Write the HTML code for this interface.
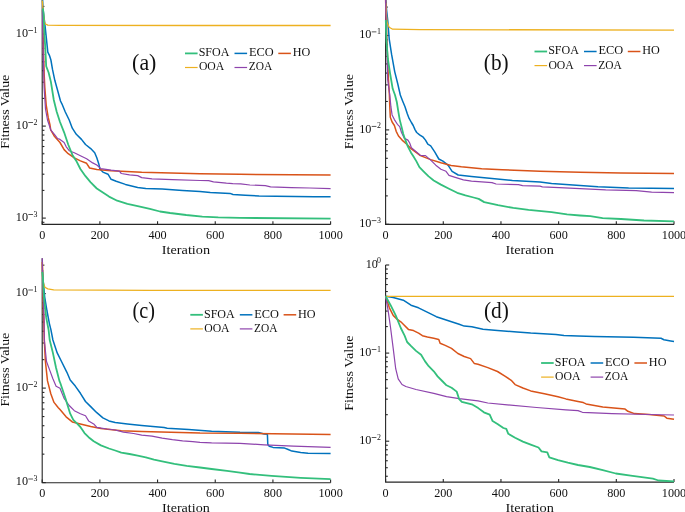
<!DOCTYPE html>
<html><head><meta charset="utf-8"><style>
html,body{margin:0;padding:0;background:#fff;}
body{width:685px;height:512px;overflow:hidden;}
svg{display:block;font-family:"Liberation Serif", serif;will-change:transform;}
</style></head><body>
<svg width="685" height="512" viewBox="0 0 685 512">
<rect width="685" height="512" fill="#fff"/>
<path d="M42.20 0.00V224.40H330.60" fill="none" stroke="#262626" stroke-width="1.1"/>
<path d="M42.20 224.40v-3.2" stroke="#262626" stroke-width="1.1"/>
<path d="M99.88 224.40v-3.2" stroke="#262626" stroke-width="1.1"/>
<path d="M157.56 224.40v-3.2" stroke="#262626" stroke-width="1.1"/>
<path d="M215.24 224.40v-3.2" stroke="#262626" stroke-width="1.1"/>
<path d="M272.92 224.40v-3.2" stroke="#262626" stroke-width="1.1"/>
<path d="M330.60 224.40v-3.2" stroke="#262626" stroke-width="1.1"/>
<path d="M42.20 222.31h2.2" stroke="#262626" stroke-width="1.1"/>
<path d="M42.20 218.10h3.6" stroke="#262626" stroke-width="1.1"/>
<path d="M42.20 190.41h2.2" stroke="#262626" stroke-width="1.1"/>
<path d="M42.20 174.20h2.2" stroke="#262626" stroke-width="1.1"/>
<path d="M42.20 162.71h2.2" stroke="#262626" stroke-width="1.1"/>
<path d="M42.20 153.79h2.2" stroke="#262626" stroke-width="1.1"/>
<path d="M42.20 146.51h2.2" stroke="#262626" stroke-width="1.1"/>
<path d="M42.20 140.35h2.2" stroke="#262626" stroke-width="1.1"/>
<path d="M42.20 135.02h2.2" stroke="#262626" stroke-width="1.1"/>
<path d="M42.20 130.31h2.2" stroke="#262626" stroke-width="1.1"/>
<path d="M42.20 126.10h3.6" stroke="#262626" stroke-width="1.1"/>
<path d="M42.20 98.41h2.2" stroke="#262626" stroke-width="1.1"/>
<path d="M42.20 82.20h2.2" stroke="#262626" stroke-width="1.1"/>
<path d="M42.20 70.71h2.2" stroke="#262626" stroke-width="1.1"/>
<path d="M42.20 61.79h2.2" stroke="#262626" stroke-width="1.1"/>
<path d="M42.20 54.51h2.2" stroke="#262626" stroke-width="1.1"/>
<path d="M42.20 48.35h2.2" stroke="#262626" stroke-width="1.1"/>
<path d="M42.20 43.02h2.2" stroke="#262626" stroke-width="1.1"/>
<path d="M42.20 38.31h2.2" stroke="#262626" stroke-width="1.1"/>
<path d="M42.20 34.10h3.6" stroke="#262626" stroke-width="1.1"/>
<path d="M42.20 6.41h2.2" stroke="#262626" stroke-width="1.1"/>
<path d="M385.60 0.00V224.40H674.00" fill="none" stroke="#262626" stroke-width="1.1"/>
<path d="M385.60 224.40v-3.2" stroke="#262626" stroke-width="1.1"/>
<path d="M443.28 224.40v-3.2" stroke="#262626" stroke-width="1.1"/>
<path d="M500.96 224.40v-3.2" stroke="#262626" stroke-width="1.1"/>
<path d="M558.64 224.40v-3.2" stroke="#262626" stroke-width="1.1"/>
<path d="M616.32 224.40v-3.2" stroke="#262626" stroke-width="1.1"/>
<path d="M674.00 224.40v-3.2" stroke="#262626" stroke-width="1.1"/>
<path d="M385.60 224.30h3.6" stroke="#262626" stroke-width="1.1"/>
<path d="M385.60 195.88h2.2" stroke="#262626" stroke-width="1.1"/>
<path d="M385.60 179.26h2.2" stroke="#262626" stroke-width="1.1"/>
<path d="M385.60 167.47h2.2" stroke="#262626" stroke-width="1.1"/>
<path d="M385.60 158.32h2.2" stroke="#262626" stroke-width="1.1"/>
<path d="M385.60 150.84h2.2" stroke="#262626" stroke-width="1.1"/>
<path d="M385.60 144.52h2.2" stroke="#262626" stroke-width="1.1"/>
<path d="M385.60 139.05h2.2" stroke="#262626" stroke-width="1.1"/>
<path d="M385.60 134.22h2.2" stroke="#262626" stroke-width="1.1"/>
<path d="M385.60 129.90h3.6" stroke="#262626" stroke-width="1.1"/>
<path d="M385.60 101.48h2.2" stroke="#262626" stroke-width="1.1"/>
<path d="M385.60 84.86h2.2" stroke="#262626" stroke-width="1.1"/>
<path d="M385.60 73.07h2.2" stroke="#262626" stroke-width="1.1"/>
<path d="M385.60 63.92h2.2" stroke="#262626" stroke-width="1.1"/>
<path d="M385.60 56.44h2.2" stroke="#262626" stroke-width="1.1"/>
<path d="M385.60 50.12h2.2" stroke="#262626" stroke-width="1.1"/>
<path d="M385.60 44.65h2.2" stroke="#262626" stroke-width="1.1"/>
<path d="M385.60 39.82h2.2" stroke="#262626" stroke-width="1.1"/>
<path d="M385.60 35.50h3.6" stroke="#262626" stroke-width="1.1"/>
<path d="M385.60 7.08h2.2" stroke="#262626" stroke-width="1.1"/>
<path d="M42.20 258.20V482.70H330.60" fill="none" stroke="#262626" stroke-width="1.1"/>
<path d="M42.20 482.70v-3.2" stroke="#262626" stroke-width="1.1"/>
<path d="M99.88 482.70v-3.2" stroke="#262626" stroke-width="1.1"/>
<path d="M157.56 482.70v-3.2" stroke="#262626" stroke-width="1.1"/>
<path d="M215.24 482.70v-3.2" stroke="#262626" stroke-width="1.1"/>
<path d="M272.92 482.70v-3.2" stroke="#262626" stroke-width="1.1"/>
<path d="M330.60 482.70v-3.2" stroke="#262626" stroke-width="1.1"/>
<path d="M42.20 482.60h3.6" stroke="#262626" stroke-width="1.1"/>
<path d="M42.20 454.15h2.2" stroke="#262626" stroke-width="1.1"/>
<path d="M42.20 437.51h2.2" stroke="#262626" stroke-width="1.1"/>
<path d="M42.20 425.71h2.2" stroke="#262626" stroke-width="1.1"/>
<path d="M42.20 416.55h2.2" stroke="#262626" stroke-width="1.1"/>
<path d="M42.20 409.06h2.2" stroke="#262626" stroke-width="1.1"/>
<path d="M42.20 402.74h2.2" stroke="#262626" stroke-width="1.1"/>
<path d="M42.20 397.26h2.2" stroke="#262626" stroke-width="1.1"/>
<path d="M42.20 392.42h2.2" stroke="#262626" stroke-width="1.1"/>
<path d="M42.20 388.10h3.6" stroke="#262626" stroke-width="1.1"/>
<path d="M42.20 359.65h2.2" stroke="#262626" stroke-width="1.1"/>
<path d="M42.20 343.01h2.2" stroke="#262626" stroke-width="1.1"/>
<path d="M42.20 331.21h2.2" stroke="#262626" stroke-width="1.1"/>
<path d="M42.20 322.05h2.2" stroke="#262626" stroke-width="1.1"/>
<path d="M42.20 314.56h2.2" stroke="#262626" stroke-width="1.1"/>
<path d="M42.20 308.24h2.2" stroke="#262626" stroke-width="1.1"/>
<path d="M42.20 302.76h2.2" stroke="#262626" stroke-width="1.1"/>
<path d="M42.20 297.92h2.2" stroke="#262626" stroke-width="1.1"/>
<path d="M42.20 293.60h3.6" stroke="#262626" stroke-width="1.1"/>
<path d="M42.20 265.15h2.2" stroke="#262626" stroke-width="1.1"/>
<path d="M385.60 265.00V482.10H674.00" fill="none" stroke="#262626" stroke-width="1.1"/>
<path d="M385.60 482.10v-3.2" stroke="#262626" stroke-width="1.1"/>
<path d="M443.28 482.10v-3.2" stroke="#262626" stroke-width="1.1"/>
<path d="M500.96 482.10v-3.2" stroke="#262626" stroke-width="1.1"/>
<path d="M558.64 482.10v-3.2" stroke="#262626" stroke-width="1.1"/>
<path d="M616.32 482.10v-3.2" stroke="#262626" stroke-width="1.1"/>
<path d="M674.00 482.10v-3.2" stroke="#262626" stroke-width="1.1"/>
<path d="M385.60 476.26h2.2" stroke="#262626" stroke-width="1.1"/>
<path d="M385.60 467.72h2.2" stroke="#262626" stroke-width="1.1"/>
<path d="M385.60 460.74h2.2" stroke="#262626" stroke-width="1.1"/>
<path d="M385.60 454.85h2.2" stroke="#262626" stroke-width="1.1"/>
<path d="M385.60 449.74h2.2" stroke="#262626" stroke-width="1.1"/>
<path d="M385.60 445.23h2.2" stroke="#262626" stroke-width="1.1"/>
<path d="M385.60 441.20h3.6" stroke="#262626" stroke-width="1.1"/>
<path d="M385.60 414.68h2.2" stroke="#262626" stroke-width="1.1"/>
<path d="M385.60 399.17h2.2" stroke="#262626" stroke-width="1.1"/>
<path d="M385.60 388.16h2.2" stroke="#262626" stroke-width="1.1"/>
<path d="M385.60 379.62h2.2" stroke="#262626" stroke-width="1.1"/>
<path d="M385.60 372.64h2.2" stroke="#262626" stroke-width="1.1"/>
<path d="M385.60 366.75h2.2" stroke="#262626" stroke-width="1.1"/>
<path d="M385.60 361.64h2.2" stroke="#262626" stroke-width="1.1"/>
<path d="M385.60 357.13h2.2" stroke="#262626" stroke-width="1.1"/>
<path d="M385.60 353.10h3.6" stroke="#262626" stroke-width="1.1"/>
<path d="M385.60 326.58h2.2" stroke="#262626" stroke-width="1.1"/>
<path d="M385.60 311.07h2.2" stroke="#262626" stroke-width="1.1"/>
<path d="M385.60 300.06h2.2" stroke="#262626" stroke-width="1.1"/>
<path d="M385.60 291.52h2.2" stroke="#262626" stroke-width="1.1"/>
<path d="M385.60 284.54h2.2" stroke="#262626" stroke-width="1.1"/>
<path d="M385.60 278.65h2.2" stroke="#262626" stroke-width="1.1"/>
<path d="M385.60 273.54h2.2" stroke="#262626" stroke-width="1.1"/>
<path d="M385.60 269.03h2.2" stroke="#262626" stroke-width="1.1"/>
<path d="M385.60 265.00h3.6" stroke="#262626" stroke-width="1.1"/>
<path d="M42.6 0.0 L43.1 10.0 L44.7 22.5 L46.2 36.6 L47.8 52.2 L49.4 55.3 L50.9 60.0 L52.5 69.4 L54.8 80.3 L57.5 90.0 L60.5 101.0 L61.9 103.8 L65.3 112.0 L69.2 120.0 L72.3 128.2 L76.3 134.3 L81.5 139.4 L85.5 144.5 L90.7 148.6 L94.7 152.7 L96.8 157.8 L98.8 163.9 L99.9 169.0 L102.9 172.1 L108.0 174.2 L111.1 179.3 L116.2 181.3 L125.4 184.4 L137.7 187.4 L145.8 188.5 L162.2 189.1 L182.6 190.5 L200.0 191.5 L210.3 192.6 L230.0 193.4 L233.0 194.5 L245.3 195.3 L259.1 196.0 L276.0 196.3 L314.3 196.8 L330.6 196.8" fill="none" stroke="#0072bd" stroke-width="1.5" stroke-linejoin="round" stroke-linecap="butt"/>
<path d="M42.6 9.5 L43.0 30.0 L43.6 55.0 L44.2 75.0 L44.8 87.3 L46.2 105.0 L48.2 117.4 L50.0 125.0 L50.7 129.8 L54.6 136.6 L60.0 142.5 L64.1 149.6 L68.2 153.7 L74.3 157.8 L80.4 160.9 L86.6 163.3 L89.6 168.0 L96.8 169.5 L111.1 170.7 L141.7 172.3 L200.0 173.8 L240.0 174.3 L330.6 175.0" fill="none" stroke="#d95319" stroke-width="1.5" stroke-linejoin="round" stroke-linecap="butt"/>
<path d="M42.3 0.5 L43.1 10.0 L44.4 21.7 L45.5 24.0 L47.8 25.2 L60.0 25.4 L200.0 25.5 L330.6 25.5" fill="none" stroke="#edb120" stroke-width="1.3" stroke-linejoin="round" stroke-linecap="butt"/>
<path d="M42.5 9.5 L42.6 20.0 L42.9 40.0 L43.4 60.0 L44.1 87.3 L45.5 109.0 L47.5 120.0 L49.5 126.0 L50.7 129.8 L54.6 134.6 L57.6 138.5 L60.0 139.4 L64.1 142.5 L66.1 146.6 L69.2 150.7 L74.3 152.7 L80.4 155.8 L86.6 158.8 L92.7 162.9 L96.8 165.0 L100.9 168.6 L111.1 170.1 L119.3 171.1 L121.3 173.5 L129.5 174.8 L137.7 175.6 L141.7 177.6 L152.0 178.9 L172.4 179.7 L200.0 180.5 L208.7 180.6 L213.5 181.8 L226.4 183.2 L232.8 183.6 L240.7 183.8 L249.9 185.0 L265.3 185.6 L270.6 186.8 L291.3 187.6 L309.7 188.0 L330.6 188.7" fill="none" stroke="#8e44ad" stroke-width="1.2" stroke-linejoin="round" stroke-linecap="butt"/>
<path d="M42.8 8.5 L43.4 12.0 L44.5 35.0 L45.3 48.0 L46.2 66.3 L48.6 72.5 L50.9 81.9 L53.8 100.0 L56.7 111.7 L60.0 122.0 L64.1 132.3 L68.2 144.5 L72.3 154.7 L76.3 160.9 L80.4 169.0 L85.5 176.2 L90.7 182.3 L96.8 188.5 L102.9 192.6 L109.0 196.6 L117.2 200.7 L127.4 203.8 L137.7 206.2 L149.9 208.9 L160.0 211.5 L170.1 213.0 L186.2 215.0 L202.3 216.6 L218.3 217.4 L240.0 217.9 L330.6 218.6" fill="none" stroke="#33bf7c" stroke-width="1.8" stroke-linejoin="round" stroke-linecap="butt"/>
<path d="M385.8 0.0 L386.6 10.0 L387.7 20.0 L389.2 38.8 L391.6 54.4 L394.7 71.6 L397.8 84.0 L400.3 95.0 L402.6 100.9 L405.0 106.7 L407.3 113.8 L409.1 118.4 L411.4 122.5 L413.2 125.5 L415.0 129.6 L416.7 132.5 L419.6 134.8 L423.2 137.2 L425.5 140.1 L427.8 144.2 L430.7 145.8 L434.7 151.9 L438.8 159.0 L442.9 161.1 L448.0 165.2 L452.1 171.3 L458.2 175.0 L471.5 176.4 L492.0 178.5 L512.4 180.5 L540.0 182.1 L551.6 183.4 L580.0 185.6 L598.0 186.8 L628.6 188.0 L674.0 188.6" fill="none" stroke="#0072bd" stroke-width="1.5" stroke-linejoin="round" stroke-linecap="butt"/>
<path d="M385.6 0.0 L386.3 20.0 L386.9 40.0 L387.6 60.0 L388.5 80.5 L389.4 95.0 L389.8 106.7 L390.3 117.3 L392.1 122.0 L394.4 125.5 L396.2 131.3 L398.5 136.0 L402.1 140.1 L406.8 144.2 L411.4 148.9 L416.1 152.4 L420.4 155.6 L430.7 159.6 L440.9 162.8 L451.1 165.4 L461.3 166.8 L481.7 168.7 L502.2 169.7 L540.0 171.3 L580.0 172.2 L621.0 173.0 L674.0 173.5" fill="none" stroke="#d95319" stroke-width="1.5" stroke-linejoin="round" stroke-linecap="butt"/>
<path d="M385.7 3.0 L386.4 14.0 L387.1 22.6 L389.2 27.3 L392.6 29.2 L420.0 29.6 L674.0 30.1" fill="none" stroke="#edb120" stroke-width="1.3" stroke-linejoin="round" stroke-linecap="butt"/>
<path d="M385.6 0.0 L386.2 25.0 L386.9 51.0 L387.7 79.4 L389.8 95.0 L390.9 106.7 L392.1 114.9 L394.4 119.6 L397.4 124.3 L399.7 126.6 L401.5 132.5 L404.4 138.4 L407.9 140.1 L409.7 143.0 L411.4 147.7 L415.0 150.7 L418.5 153.6 L420.4 155.4 L425.5 155.6 L430.7 160.1 L435.8 165.2 L440.9 169.3 L446.0 171.3 L449.0 175.4 L455.2 177.4 L463.4 179.9 L471.5 181.1 L492.0 182.6 L496.1 184.0 L518.5 184.6 L522.6 185.6 L540.0 186.2 L542.4 186.8 L559.3 187.6 L580.0 188.6 L605.7 189.9 L636.3 190.6 L651.6 192.2 L674.0 192.6" fill="none" stroke="#8e44ad" stroke-width="1.2" stroke-linejoin="round" stroke-linecap="butt"/>
<path d="M385.8 20.0 L386.1 30.0 L386.5 41.4 L387.9 59.0 L390.0 73.0 L392.7 88.8 L395.0 95.0 L396.8 102.0 L398.5 112.6 L399.7 119.6 L401.5 126.6 L403.2 133.7 L405.6 140.7 L407.9 146.6 L410.9 152.4 L413.5 156.5 L416.3 161.1 L419.4 167.2 L423.5 171.3 L428.6 176.4 L433.7 180.5 L440.9 184.6 L449.0 188.7 L457.2 192.8 L465.4 195.4 L473.6 197.5 L478.7 198.9 L484.2 202.1 L498.0 205.2 L513.3 207.9 L528.6 209.8 L551.6 212.1 L567.0 214.4 L580.0 215.5 L590.3 216.2 L602.6 218.2 L621.0 219.0 L644.0 220.5 L674.0 221.3" fill="none" stroke="#33bf7c" stroke-width="1.8" stroke-linejoin="round" stroke-linecap="butt"/>
<path d="M42.6 270.0 L43.1 279.9 L44.7 297.0 L47.0 311.0 L49.4 323.6 L50.9 329.6 L52.9 340.0 L57.2 352.9 L61.5 361.5 L66.9 372.3 L70.2 380.0 L75.3 386.1 L80.4 393.3 L85.5 401.5 L90.7 406.6 L96.8 412.7 L102.9 417.8 L109.0 420.9 L115.2 422.5 L127.4 423.9 L141.7 425.4 L164.1 427.6 L167.2 428.2 L188.6 429.6 L211.6 431.3 L240.0 432.3 L258.4 432.5 L264.2 434.0 L267.4 434.3 L267.8 444.5 L269.3 446.2 L273.0 447.4 L284.6 448.1 L287.6 449.2 L291.9 451.1 L300.7 452.5 L308.0 453.3 L330.6 453.5" fill="none" stroke="#0072bd" stroke-width="1.5" stroke-linejoin="round" stroke-linecap="butt"/>
<path d="M42.3 262.0 L42.9 290.0 L43.4 310.0 L43.8 320.0 L44.3 340.0 L45.4 361.5 L47.5 380.9 L50.8 393.8 L54.0 402.4 L58.3 407.7 L60.0 409.6 L66.1 416.8 L72.3 421.9 L80.4 423.9 L90.7 426.6 L100.9 428.6 L121.3 430.7 L141.7 431.5 L200.0 433.1 L240.0 433.3 L330.6 434.6" fill="none" stroke="#d95319" stroke-width="1.5" stroke-linejoin="round" stroke-linecap="butt"/>
<path d="M42.4 262.0 L42.9 281.4 L44.9 287.3 L47.8 288.9 L53.7 289.8 L150.0 290.4 L330.6 290.4" fill="none" stroke="#edb120" stroke-width="1.3" stroke-linejoin="round" stroke-linecap="butt"/>
<path d="M42.2 258.2 L42.8 280.0 L43.4 300.0 L44.1 320.0 L44.3 340.0 L46.5 361.5 L49.7 370.1 L52.9 378.7 L56.1 386.2 L60.0 388.2 L64.1 398.4 L69.2 405.5 L74.3 410.7 L80.4 413.7 L85.5 415.8 L88.6 420.9 L93.7 423.9 L96.8 427.4 L107.0 429.0 L115.2 430.0 L123.4 432.1 L133.6 433.5 L141.7 435.2 L152.0 436.2 L162.2 438.2 L172.4 439.7 L182.6 440.9 L192.8 441.7 L200.0 442.3 L211.6 442.9 L240.0 443.4 L264.2 444.8 L293.4 446.2 L330.6 447.4" fill="none" stroke="#8e44ad" stroke-width="1.2" stroke-linejoin="round" stroke-linecap="butt"/>
<path d="M42.3 272.0 L42.9 277.5 L43.9 297.0 L46.2 317.4 L48.6 329.9 L49.7 340.0 L52.9 352.9 L56.1 368.0 L59.4 380.9 L60.3 383.0 L66.1 400.4 L70.2 413.7 L73.3 419.9 L77.4 423.9 L80.4 427.0 L84.5 433.1 L88.6 437.2 L93.7 441.3 L100.9 445.4 L109.0 448.5 L115.2 450.5 L121.3 452.6 L129.5 454.0 L137.7 455.6 L145.8 457.3 L154.0 459.7 L162.2 461.3 L174.4 463.8 L186.7 465.8 L200.0 467.5 L211.6 469.0 L227.0 470.8 L240.0 472.6 L249.6 474.0 L271.5 475.9 L300.7 477.8 L330.6 479.1" fill="none" stroke="#33bf7c" stroke-width="1.8" stroke-linejoin="round" stroke-linecap="butt"/>
<path d="M385.6 296.3 L393.2 297.6 L403.3 300.2 L411.0 305.2 L418.5 307.8 L428.7 312.9 L436.3 316.7 L443.9 319.2 L451.5 321.8 L459.2 324.3 L464.2 326.1 L471.8 326.8 L483.0 329.2 L497.5 330.5 L517.0 331.9 L530.7 333.0 L556.0 334.4 L564.0 335.6 L578.0 336.1 L594.5 336.6 L633.6 337.3 L661.0 338.3 L663.9 339.7 L670.7 340.9 L674.0 341.6" fill="none" stroke="#0072bd" stroke-width="1.5" stroke-linejoin="round" stroke-linecap="butt"/>
<path d="M385.6 296.3 L389.4 307.8 L393.2 315.4 L397.0 319.2 L400.8 321.8 L403.3 324.3 L408.4 329.4 L413.5 330.6 L418.6 333.2 L422.4 335.7 L427.4 337.0 L433.8 338.2 L438.8 339.5 L440.1 343.3 L445.2 345.4 L451.5 348.4 L457.9 353.5 L464.2 356.5 L470.6 358.6 L474.4 363.6 L478.0 364.3 L487.8 367.6 L497.5 371.5 L505.3 376.4 L511.2 380.3 L515.1 384.6 L522.9 388.0 L530.7 390.9 L544.4 393.8 L558.0 396.7 L565.9 398.9 L578.0 401.4 L583.3 402.6 L586.1 403.9 L602.8 407.1 L625.1 409.1 L627.9 411.3 L634.4 413.6 L649.2 414.5 L664.1 416.0 L666.8 418.2 L674.0 419.3" fill="none" stroke="#d95319" stroke-width="1.5" stroke-linejoin="round" stroke-linecap="butt"/>
<path d="M385.5 296.4 L674.0 296.4" fill="none" stroke="#edb120" stroke-width="1.3" stroke-linejoin="round" stroke-linecap="butt"/>
<path d="M385.6 296.3 L388.1 310.3 L390.6 328.0 L393.2 348.4 L395.7 368.7 L398.2 378.9 L402.0 384.5 L405.8 386.5 L416.0 389.5 L433.8 393.3 L446.5 396.6 L459.2 398.7 L478.0 400.9 L487.8 403.0 L507.3 404.9 L536.6 407.5 L565.9 409.8 L578.0 410.6 L582.4 412.3 L612.1 413.6 L649.2 414.5 L674.0 415.0" fill="none" stroke="#8e44ad" stroke-width="1.2" stroke-linejoin="round" stroke-linecap="butt"/>
<path d="M385.6 296.3 L390.6 305.2 L395.7 315.4 L400.8 328.0 L404.6 335.7 L407.1 342.0 L410.9 345.9 L416.0 350.9 L421.1 354.8 L424.9 361.1 L428.7 366.2 L433.8 371.3 L437.6 376.4 L442.7 381.5 L446.5 385.3 L451.6 387.8 L456.7 391.6 L459.2 399.2 L461.8 401.8 L471.8 404.3 L478.2 408.1 L483.9 412.3 L489.7 414.7 L492.6 421.1 L497.5 424.0 L503.4 428.0 L506.3 428.9 L508.3 433.8 L515.1 437.7 L522.9 441.6 L530.7 444.6 L538.5 447.5 L541.5 451.4 L547.3 452.4 L549.3 457.3 L558.0 460.2 L567.8 462.7 L578.0 465.0 L589.8 467.0 L602.8 470.1 L615.8 473.5 L630.7 475.7 L652.9 478.7 L658.5 480.5 L674.0 481.3" fill="none" stroke="#33bf7c" stroke-width="1.8" stroke-linejoin="round" stroke-linecap="butt"/>
<g fill="#111111"><text x="15.80" y="36.90" font-size="12.2">10</text>
<rect x="28.30" y="30.15" width="4.7" height="0.7"/>
<text x="37.50" y="32.50" font-size="7.9" text-anchor="end">1</text>
<text x="359.20" y="38.30" font-size="12.2">10</text>
<rect x="371.70" y="31.55" width="4.7" height="0.7"/>
<text x="380.90" y="33.90" font-size="7.9" text-anchor="end">1</text>
<text x="15.80" y="296.40" font-size="12.2">10</text>
<rect x="28.30" y="289.65" width="4.7" height="0.7"/>
<text x="37.50" y="292.00" font-size="7.9" text-anchor="end">1</text>
<text x="15.80" y="128.90" font-size="12.2">10</text>
<rect x="28.30" y="122.15" width="4.7" height="0.7"/>
<text x="37.50" y="124.50" font-size="7.9" text-anchor="end">2</text>
<text x="359.20" y="132.70" font-size="12.2">10</text>
<rect x="371.70" y="125.95" width="4.7" height="0.7"/>
<text x="380.90" y="128.30" font-size="7.9" text-anchor="end">2</text>
<text x="15.80" y="390.90" font-size="12.2">10</text>
<rect x="28.30" y="384.15" width="4.7" height="0.7"/>
<text x="37.50" y="386.50" font-size="7.9" text-anchor="end">2</text>
<text x="15.80" y="220.90" font-size="12.2">10</text>
<rect x="28.30" y="214.15" width="4.7" height="0.7"/>
<text x="37.50" y="216.50" font-size="7.9" text-anchor="end">3</text>
<text x="359.20" y="227.10" font-size="12.2">10</text>
<rect x="371.70" y="220.35" width="4.7" height="0.7"/>
<text x="380.90" y="222.70" font-size="7.9" text-anchor="end">3</text>
<text x="15.80" y="485.40" font-size="12.2">10</text>
<rect x="28.30" y="478.65" width="4.7" height="0.7"/>
<text x="37.50" y="481.00" font-size="7.9" text-anchor="end">3</text>
<text x="365.70" y="267.80" font-size="12.2">10</text>
<text x="380.90" y="263.40" font-size="7.9" text-anchor="end">0</text>
<text x="359.20" y="355.90" font-size="12.2">10</text>
<rect x="371.70" y="349.15" width="4.7" height="0.7"/>
<text x="380.90" y="351.50" font-size="7.9" text-anchor="end">1</text>
<text x="359.20" y="444.00" font-size="12.2">10</text>
<rect x="371.70" y="437.25" width="4.7" height="0.7"/>
<text x="380.90" y="439.60" font-size="7.9" text-anchor="end">2</text>
<text x="42.20" y="238.70" text-anchor="middle" font-size="12.2">0</text>
<text x="99.88" y="238.70" text-anchor="middle" font-size="12.2">200</text>
<text x="157.56" y="238.70" text-anchor="middle" font-size="12.2">400</text>
<text x="215.24" y="238.70" text-anchor="middle" font-size="12.2">600</text>
<text x="272.92" y="238.70" text-anchor="middle" font-size="12.2">800</text>
<text x="330.60" y="238.70" text-anchor="middle" font-size="12.2">1000</text>
<text x="385.60" y="238.70" text-anchor="middle" font-size="12.2">0</text>
<text x="443.28" y="238.70" text-anchor="middle" font-size="12.2">200</text>
<text x="500.96" y="238.70" text-anchor="middle" font-size="12.2">400</text>
<text x="558.64" y="238.70" text-anchor="middle" font-size="12.2">600</text>
<text x="616.32" y="238.70" text-anchor="middle" font-size="12.2">800</text>
<text x="674.00" y="238.70" text-anchor="middle" font-size="12.2">1000</text>
<text x="42.20" y="496.60" text-anchor="middle" font-size="12.2">0</text>
<text x="99.88" y="496.60" text-anchor="middle" font-size="12.2">200</text>
<text x="157.56" y="496.60" text-anchor="middle" font-size="12.2">400</text>
<text x="215.24" y="496.60" text-anchor="middle" font-size="12.2">600</text>
<text x="272.92" y="496.60" text-anchor="middle" font-size="12.2">800</text>
<text x="330.60" y="496.60" text-anchor="middle" font-size="12.2">1000</text>
<text x="385.60" y="496.60" text-anchor="middle" font-size="12.2">0</text>
<text x="443.28" y="496.60" text-anchor="middle" font-size="12.2">200</text>
<text x="500.96" y="496.60" text-anchor="middle" font-size="12.2">400</text>
<text x="558.64" y="496.60" text-anchor="middle" font-size="12.2">600</text>
<text x="616.32" y="496.60" text-anchor="middle" font-size="12.2">800</text>
<text x="674.00" y="496.60" text-anchor="middle" font-size="12.2">1000</text>
<text x="161.83" y="253.70" font-size="12.4" textLength="48.24" lengthAdjust="spacingAndGlyphs">Iteration</text>
<text x="505.42" y="253.70" font-size="12.4" textLength="48.45" lengthAdjust="spacingAndGlyphs">Iteration</text>
<text x="162.03" y="511.90" font-size="12.4" textLength="47.84" lengthAdjust="spacingAndGlyphs">Iteration</text>
<text x="505.42" y="511.90" font-size="12.4" textLength="48.45" lengthAdjust="spacingAndGlyphs">Iteration</text>
<g transform="translate(8.6 148.4) rotate(-90)"><text x="-0.28" y="0.00" font-size="12.4" textLength="73.88" lengthAdjust="spacingAndGlyphs">Fitness Value</text></g>
<g transform="translate(352.7 148.9) rotate(-90)"><text x="-0.28" y="0.00" font-size="12.4" textLength="75.10" lengthAdjust="spacingAndGlyphs">Fitness Value</text></g>
<g transform="translate(8.8 406.3) rotate(-90)"><text x="-0.28" y="0.00" font-size="12.4" textLength="73.78" lengthAdjust="spacingAndGlyphs">Fitness Value</text></g>
<g transform="translate(352.8 410.6) rotate(-90)"><text x="-0.28" y="0.00" font-size="12.4" textLength="75.30" lengthAdjust="spacingAndGlyphs">Fitness Value</text></g>
<text x="132.12" y="70.10" font-size="22.3" textLength="24.26" lengthAdjust="spacingAndGlyphs">(a)</text>
<text x="483.79" y="70.10" font-size="22.3" textLength="24.86" lengthAdjust="spacingAndGlyphs">(b)</text>
<text x="132.49" y="318.30" font-size="22.3" textLength="22.41" lengthAdjust="spacingAndGlyphs">(c)</text>
<text x="483.94" y="318.30" font-size="22.3" textLength="24.92" lengthAdjust="spacingAndGlyphs">(d)</text>
<path d="M185.00 53.40h12.6" stroke="#33bf7c" stroke-width="1.8"/>
<text x="198.65" y="56.30" font-size="12.1" textLength="30.77" lengthAdjust="spacingAndGlyphs">SFOA</text>
<path d="M234.50 53.40h12.6" stroke="#0072bd" stroke-width="1.5"/>
<text x="248.94" y="56.30" font-size="12.1" textLength="24.70" lengthAdjust="spacingAndGlyphs">ECO</text>
<path d="M278.30 53.40h12.6" stroke="#d95319" stroke-width="1.5"/>
<text x="292.75" y="56.30" font-size="12.1" textLength="17.57" lengthAdjust="spacingAndGlyphs">HO</text>
<path d="M185.00 67.50h12.6" stroke="#edb120" stroke-width="1.2"/>
<text x="198.92" y="70.40" font-size="12.1" textLength="25.34" lengthAdjust="spacingAndGlyphs">OOA</text>
<path d="M234.50 67.50h12.6" stroke="#8e44ad" stroke-width="1.2"/>
<text x="248.73" y="70.40" font-size="12.1" textLength="23.48" lengthAdjust="spacingAndGlyphs">ZOA</text>
<path d="M534.50 51.50h12.6" stroke="#33bf7c" stroke-width="1.8"/>
<text x="548.15" y="54.40" font-size="12.1" textLength="30.77" lengthAdjust="spacingAndGlyphs">SFOA</text>
<path d="M584.00 51.50h12.6" stroke="#0072bd" stroke-width="1.5"/>
<text x="598.44" y="54.40" font-size="12.1" textLength="24.70" lengthAdjust="spacingAndGlyphs">ECO</text>
<path d="M627.80 51.50h12.6" stroke="#d95319" stroke-width="1.5"/>
<text x="642.25" y="54.40" font-size="12.1" textLength="17.57" lengthAdjust="spacingAndGlyphs">HO</text>
<path d="M534.50 65.60h12.6" stroke="#edb120" stroke-width="1.2"/>
<text x="548.42" y="68.50" font-size="12.1" textLength="25.34" lengthAdjust="spacingAndGlyphs">OOA</text>
<path d="M584.00 65.60h12.6" stroke="#8e44ad" stroke-width="1.2"/>
<text x="598.23" y="68.50" font-size="12.1" textLength="23.48" lengthAdjust="spacingAndGlyphs">ZOA</text>
<path d="M190.30 314.80h12.6" stroke="#33bf7c" stroke-width="1.8"/>
<text x="203.95" y="317.70" font-size="12.1" textLength="30.77" lengthAdjust="spacingAndGlyphs">SFOA</text>
<path d="M239.80 314.80h12.6" stroke="#0072bd" stroke-width="1.5"/>
<text x="254.24" y="317.70" font-size="12.1" textLength="24.70" lengthAdjust="spacingAndGlyphs">ECO</text>
<path d="M283.60 314.80h12.6" stroke="#d95319" stroke-width="1.5"/>
<text x="298.05" y="317.70" font-size="12.1" textLength="17.57" lengthAdjust="spacingAndGlyphs">HO</text>
<path d="M190.30 328.90h12.6" stroke="#edb120" stroke-width="1.2"/>
<text x="204.22" y="331.80" font-size="12.1" textLength="25.34" lengthAdjust="spacingAndGlyphs">OOA</text>
<path d="M239.80 328.90h12.6" stroke="#8e44ad" stroke-width="1.2"/>
<text x="254.03" y="331.80" font-size="12.1" textLength="23.48" lengthAdjust="spacingAndGlyphs">ZOA</text>
<path d="M541.10 363.00h12.6" stroke="#33bf7c" stroke-width="1.8"/>
<text x="554.75" y="365.90" font-size="12.1" textLength="30.77" lengthAdjust="spacingAndGlyphs">SFOA</text>
<path d="M590.60 363.00h12.6" stroke="#0072bd" stroke-width="1.5"/>
<text x="605.04" y="365.90" font-size="12.1" textLength="24.70" lengthAdjust="spacingAndGlyphs">ECO</text>
<path d="M634.40 363.00h12.6" stroke="#d95319" stroke-width="1.5"/>
<text x="648.85" y="365.90" font-size="12.1" textLength="17.57" lengthAdjust="spacingAndGlyphs">HO</text>
<path d="M541.10 377.10h12.6" stroke="#edb120" stroke-width="1.2"/>
<text x="555.02" y="380.00" font-size="12.1" textLength="25.34" lengthAdjust="spacingAndGlyphs">OOA</text>
<path d="M590.60 377.10h12.6" stroke="#8e44ad" stroke-width="1.2"/>
<text x="604.83" y="380.00" font-size="12.1" textLength="23.48" lengthAdjust="spacingAndGlyphs">ZOA</text></g>
</svg>
</body></html>
